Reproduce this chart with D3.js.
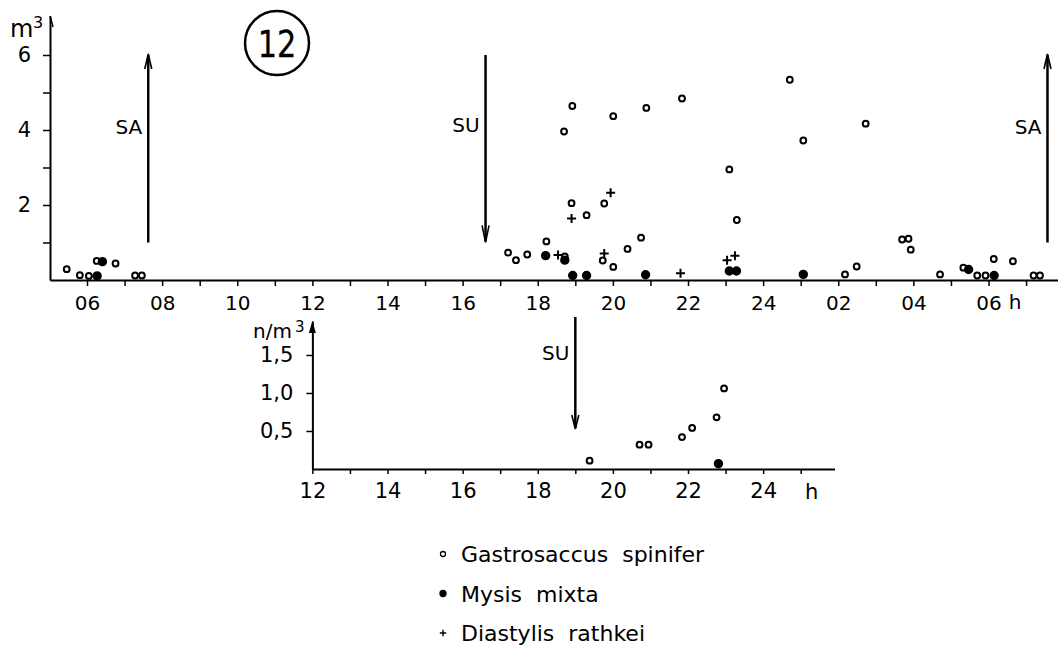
<!DOCTYPE html>
<html>
<head>
<meta charset="utf-8">
<script src="https://cdn.jsdelivr.net/npm/d3@7"></script>
<style>
  body { margin: 0; background: #fff; }
  svg { display: block; font-family: "DejaVu Sans", sans-serif; }
</style>
</head>
<body>
<svg width="1058" height="647"></svg>
<script>
// hours are continuous: 24 = midnight, 30 = 06 next morning
const topHourTicks    = d3.range(6, 32);
const bottomHourTicks = d3.range(12, 26);
const topYTicks       = [1, 2, 3, 4, 5, 6];
const bottomYTicks    = [0.5, 1.0, 1.5];

// upper panel (per m3)
const gastroTop = [
  [5.46, 0.29], [5.81, 0.13], [6.05, 0.11], [6.26, 0.51], [6.76, 0.44], [7.28, 0.12], [7.46, 0.12],
  [17.21, 0.73], [17.42, 0.53], [17.72, 0.68], [18.23, 1.03], [18.72, 0.63], [18.90, 2.05],
  [19.30, 1.73], [19.77, 2.04], [19.73, 0.52], [20.01, 0.35], [20.39, 0.83], [20.75, 1.13],
  [23.10, 2.95], [23.30, 1.60], [18.92, 4.64], [18.70, 3.96], [20.01, 4.37], [20.89, 4.59],
  [21.84, 4.84], [24.71, 5.34], [25.07, 3.72], [26.73, 4.17], [26.18, 0.15], [26.49, 0.36],
  [27.70, 1.08], [27.87, 1.10], [27.93, 0.81], [28.71, 0.15], [29.33, 0.33], [29.70, 0.12],
  [29.92, 0.12], [30.14, 0.56], [30.65, 0.50], [31.20, 0.12], [31.37, 0.12]
];
const mysisTop = [
  [6.27, 0.11], [6.41, 0.49], [18.21, 0.65], [18.72, 0.53], [18.93, 0.12], [19.30, 0.12],
  [20.87, 0.14], [23.10, 0.24], [23.29, 0.24], [25.07, 0.15], [29.47, 0.28], [30.15, 0.12]
];
const diastylisTop = [
  [18.54, 0.67], [18.90, 1.64], [19.94, 2.33], [19.77, 0.71], [21.80, 0.18], [23.04, 0.53], [23.25, 0.65]
];

// lower panel (n/m3)
const gastroBottom = [
  [19.38, 0.11], [20.71, 0.32], [20.95, 0.32], [21.84, 0.42], [22.11, 0.54], [22.76, 0.68], [22.96, 1.06]
];
const mysisBottom = [[22.81, 0.07]];

// sunrise / sunset markers
const sunTop    = [{ label: "SA", t: 7.63, up: true }, { label: "SU", t: 16.61, up: false }, { label: "SA", t: 31.57, up: true }];
const sunBottom = [{ label: "SU", t: 19.0, up: false }];

const legendItems = [
  { kind: "open",   text: "Gastrosaccus  spinifer" },
  { kind: "filled", text: "Mysis  mixta" },
  { kind: "plus",   text: "Diastylis  rathkei" }
];

const svg = d3.select("svg");

const fmtHour = d => d % 2 ? "" : (d > 24 ? d - 24 : d).toString().padStart(2, "0");

const x = d3.scaleLinear().domain([5.015, 31.85]).range([50, 1058]);
const yTop = d3.scaleLinear().domain([0, 7.04]).range([280, 16]);
const xBot = d3.scaleLinear().domain([12, 25.9]).range([x(12), x(25.9)]);
const yBot = d3.scaleLinear().domain([0, 1.947]).range([469, 321]);

function styleAxis(g, size) {
  g.attr("font-family", null).attr("font-size", size);
  g.selectAll("path, line").attr("stroke", "#000");
  g.select(".domain").attr("stroke-width", 2);
  g.selectAll(".tick line").attr("stroke-width", 1.5);
  g.selectAll("text").attr("fill", "#000");
}

// ---------- upper panel ----------
svg.append("g")
  .attr("transform", `translate(0,${yTop(0)})`)
  .call(d3.axisBottom(x).tickValues(topHourTicks).tickFormat(fmtHour).tickSize(6).tickSizeOuter(0).tickPadding(10))
  .call(g => styleAxis(g, 20));

svg.append("g")
  .attr("transform", `translate(${x.range()[0]},0)`)
  .call(d3.axisLeft(yTop).tickValues(topYTicks).tickFormat(d => d % 2 ? "" : d).tickSize(7).tickSizeOuter(0).tickPadding(12))
  .call(g => styleAxis(g, 21));

svg.append("path")
  .attr("d", `M${x.range()[0]},${yTop.range()[1]} l3,11`)
  .attr("stroke", "#000").attr("stroke-width", 1.5).attr("fill", "none");

svg.append("text").attr("x", 10).attr("y", 37).attr("font-size", 24).text("m");
svg.append("text").attr("x", 33).attr("y", 28).attr("font-size", 16).text("3");
svg.append("text").attr("x", x(30.71)).attr("y", yTop(0) + 29).attr("text-anchor", "middle").attr("font-size", 20).text("h");

// circled panel number
svg.append("circle").attr("cx", 277).attr("cy", 43).attr("r", 32)
  .attr("fill", "none").attr("stroke", "#000").attr("stroke-width", 2.5);
svg.append("text").attr("transform", "translate(277,57) scale(0.8,1)").attr("text-anchor", "middle")
  .attr("font-size", 38).attr("stroke", "#000").attr("stroke-width", 0.3).text("12");

function sunArrows(list, xs, ys, from, to, head, labelY) {
  list.forEach(s => {
    const px = xs(s.t);
    const y0 = ys(from), y1 = ys(to);
    svg.append("line").attr("x1", px).attr("x2", px).attr("y1", y0).attr("y2", y1)
      .attr("stroke", "#000").attr("stroke-width", 2.5);
    const tip = s.up ? y1 : y0;
    const dir = s.up ? 1 : -1;
    svg.append("path")
      .attr("d", `M${px - 3.5},${tip + dir * head} L${px},${tip - dir * 1} L${px + 3.5},${tip + dir * head}`)
      .attr("stroke", "#000").attr("stroke-width", 1.6).attr("fill", "none");
    svg.append("text").attr("x", px - 6).attr("y", labelY).attr("text-anchor", "end")
      .attr("font-size", 20).text(s.label);
  });
}
// SA arrows point up (from 1 to 6); SU arrows point down
sunArrows(sunTop.filter(s => s.up), x, yTop, 1.0, 6.0, 14, 134);
sunArrows(sunTop.filter(s => !s.up), x, yTop, 1.03, 6.0, 16, 132);

function drawMarks(data, kind, xs, ys) {
  const g = svg.append("g");
  if (kind === "plus") {
    g.selectAll("path").data(data).join("path")
      .attr("d", d => `M${xs(d[0]) - 4.5},${ys(d[1])} h9 M${xs(d[0])},${ys(d[1]) - 4.5} v9`)
      .attr("stroke", "#000").attr("stroke-width", 2);
  } else {
    g.selectAll("circle").data(data).join("circle")
      .attr("cx", d => xs(d[0])).attr("cy", d => ys(d[1]))
      .attr("r", kind === "open" ? 2.9 : 3.7)
      .attr("fill", kind === "open" ? "#fff" : "#000")
      .attr("stroke", "#000").attr("stroke-width", 2);
  }
}
drawMarks(gastroTop, "open", x, yTop);
drawMarks(mysisTop, "filled", x, yTop);
drawMarks(diastylisTop, "plus", x, yTop);

// ---------- lower panel ----------
svg.append("g")
  .attr("transform", `translate(0,${yBot(0)})`)
  .call(d3.axisBottom(xBot).tickValues(bottomHourTicks).tickFormat(fmtHour).tickSize(5).tickSizeOuter(0).tickPadding(9))
  .call(g => styleAxis(g, 21));

svg.append("g")
  .attr("transform", `translate(${xBot.range()[0]},0)`)
  .call(d3.axisLeft(yBot).tickValues(bottomYTicks).tickFormat(d => d3.format(".1f")(d).replace(".", ",")).tickSize(6).tickSizeOuter(0).tickPadding(13))
  .call(g => styleAxis(g, 21));

svg.append("path")
  .attr("d", `M${xBot.range()[0]},${yBot.range()[1]} l-3.5,12 h7 z`)
  .attr("fill", "#000");

svg.append("text").attr("x", 253).attr("y", 338).attr("font-size", 20).text("n/m");
svg.append("text").attr("x", 295).attr("y", 332).attr("font-size", 15).text("3");
svg.append("text").attr("x", xBot(25.29)).attr("y", yBot(0) + 30).attr("text-anchor", "middle").attr("font-size", 21).text("h");

sunArrows(sunBottom, xBot, yBot, 0.54, 2.0, 13, 360);

drawMarks(gastroBottom, "open", xBot, yBot);
drawMarks(mysisBottom, "filled", xBot, yBot);

// ---------- legend ----------
const legend = svg.append("g").attr("transform", "translate(443,554)");
legendItems.forEach((item, i) => {
  const row = legend.append("g").attr("transform", `translate(0,${i * 39.5})`);
  if (item.kind === "plus") {
    row.append("path").attr("d", "M-3.2,0 h6.4 M0,-3.2 v6.4").attr("stroke", "#000").attr("stroke-width", 1.4);
  } else {
    row.append("circle").attr("r", item.kind === "open" ? 2.5 : 3)
      .attr("fill", item.kind === "open" ? "#fff" : "#000")
      .attr("stroke", "#000").attr("stroke-width", 1.3);
  }
  row.append("text").attr("x", 18).attr("y", 8).attr("font-size", 22)
    .attr("xml:space", "preserve").style("white-space", "pre").text(item.text);
});
</script>
</body>
</html>
